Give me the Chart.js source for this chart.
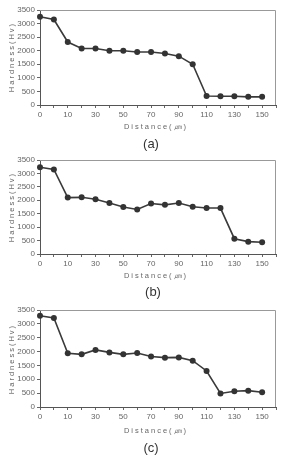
<!DOCTYPE html>
<html>
<head>
<meta charset="utf-8">
<script src="https://cdn.jsdelivr.net/npm/chart.js@4"></script>
<style>
body { margin: 0; background: #fff; font-family: "Liberation Sans", Arial, sans-serif; }
#page { position: relative; width: 284px; height: 456px; overflow: hidden; }
canvas { position: absolute; left: 0; }
.ytitle, .xtitle, .cap { position: absolute; text-align: center; white-space: nowrap; will-change: transform; -webkit-font-smoothing: antialiased; }
.ytitle { width: 100px; height: 10px; line-height: 10px; font-size: 7.5px; letter-spacing: 2px; color: #666; transform: rotate(-90deg); }
.xtitle { width: 120px; height: 10px; line-height: 10px; font-size: 7.5px; letter-spacing: 2px; color: #666; }
.cap { width: 40px; height: 16px; line-height: 16px; font-size: 13px; color: #333; }
</style>
</head>
<body>
<div id="page">
  <canvas id="chartA" width="284" height="120" style="top:0px"></canvas>
  <canvas id="chartB" width="284" height="119" style="top:150px"></canvas>
  <canvas id="chartC" width="284" height="122" style="top:300px"></canvas>

  <div class="ytitle" style="left:-38px; top:52px">Hardness(Hv)</div>
  <div class="xtitle" style="left:96px; top:122px">Distance(㎛)</div>
  <div class="cap" style="left:131px; top:136px">(a)</div>

  <div class="ytitle" style="left:-38px; top:202px">Hardness(Hv)</div>
  <div class="xtitle" style="left:96px; top:271px">Distance(㎛)</div>
  <div class="cap" style="left:133px; top:284px">(b)</div>

  <div class="ytitle" style="left:-38px; top:354px">Hardness(Hv)</div>
  <div class="xtitle" style="left:96px; top:426px">Distance(㎛)</div>
  <div class="cap" style="left:131px; top:440px">(c)</div>
</div>
<script>
// distance positions (µm); last empty slot leaves room on the right like the original
var distances = ['0', '5', '10', '20', '30', '40', '50', '60', '70', '80', '90', '100', '110', '120', '130', '140', '150', ''];

var hardnessA = [3250, 3150, 2320, 2080, 2080, 2000, 2000, 1950, 1950, 1900, 1800, 1500, 330, 320, 320, 300, 300];
var hardnessB = [3230, 3150, 2100, 2110, 2040, 1900, 1750, 1660, 1880, 1830, 1900, 1760, 1710, 1710, 570, 460, 440];
var hardnessC = [3290, 3210, 1940, 1900, 2060, 1970, 1900, 1950, 1820, 1780, 1790, 1670, 1300, 490, 570, 590, 530];

var yMin = 0, yMax = 3500, yStep = 500;

// grey frame on top and right of the plot area
var framePlugin = {
    id: 'frame',
    beforeDatasetsDraw: function (chart) {
        var a = chart.chartArea, c = chart.ctx;
        c.save();
        c.strokeStyle = '#999';
        c.lineWidth = 1;
        c.beginPath();
        c.moveTo(a.left, a.top + 0.5);
        c.lineTo(a.right - 0.5, a.top + 0.5);
        c.lineTo(a.right - 0.5, a.bottom);
        c.stroke();
        c.restore();
    }
};

function makeChart(id, values) {
    var ctx = document.getElementById(id).getContext('2d');
    return new Chart(ctx, {
        type: 'line',
        data: {
            labels: distances,
            datasets: [{
                data: values,
                borderColor: '#3a3a3a',
                borderWidth: 1.6,
                pointRadius: 3,
                pointBorderWidth: 0,
                pointBackgroundColor: '#333',
                tension: 0
            }]
        },
        options: {
            responsive: false,
            animation: false,
            layout: { padding: { top: 10, right: 8, left: 0, bottom: 0 } },
            plugins: { legend: { display: false }, tooltip: { enabled: false } },
            scales: {
                x: {
                    offset: false,
                    grid: { drawOnChartArea: false, tickLength: 3, color: '#666' },
                    border: { color: '#555', width: 1 },
                    ticks: {
                        autoSkip: false, maxRotation: 0, padding: 2,
                        font: { size: 8, family: 'Liberation Sans' }, color: '#666',
                        callback: function (v, i) { return i % 2 === 0 ? distances[i] : ''; }
                    },
                    afterFit: function (s) { s.height = 15; }
                },
                y: {
                    min: yMin, max: yMax,
                    grid: { drawOnChartArea: false, tickLength: 3, color: '#666' },
                    border: { color: '#555', width: 1 },
                    ticks: {
                        stepSize: yStep, padding: 2,
                        font: { size: 8, family: 'Liberation Sans' }, color: '#666',
                        callback: function (v) { return String(v); }
                    },
                    afterFit: function (s) { s.width = 40; }
                }
            }
        },
        plugins: [framePlugin]
    });
}

makeChart('chartA', hardnessA);
makeChart('chartB', hardnessB);
makeChart('chartC', hardnessC);
</script>
</body>
</html>
